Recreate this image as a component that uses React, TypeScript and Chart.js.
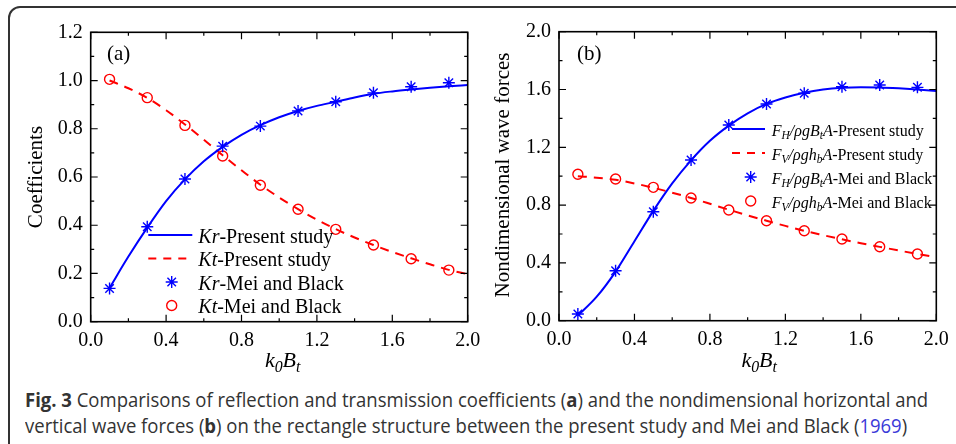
import React, { useEffect, useRef } from 'react';
import { Chart, registerables } from 'chart.js';

Chart.register(...registerables);

const SERIF = '"Liberation Serif", "Times New Roman", serif';
const BLUE = '#0000ff';
const RED = '#ff0000';

// x positions of the reference (Mei and Black) markers
const markerX = [0.1, 0.3, 0.5, 0.7, 0.9, 1.1, 1.3, 1.5, 1.7, 1.9];
// x positions of the "present study" curves
const curveX = [0.1, 0.2, 0.3, 0.4, 0.5, 0.6, 0.7, 0.8, 0.9, 1.0, 1.1, 1.2, 1.3, 1.4, 1.5, 1.6, 1.7, 1.8, 1.9, 2.0];

// Panel (a): coefficients
const krMei = [0.138, 0.394, 0.592, 0.728, 0.811, 0.874, 0.912, 0.949, 0.974, 0.991];
const ktMei = [1.005, 0.929, 0.814, 0.687, 0.566, 0.466, 0.383, 0.318, 0.261, 0.214];
const krPresent = [0.14, 0.27, 0.39, 0.5, 0.59, 0.665, 0.725, 0.775, 0.815, 0.848, 0.874, 0.895, 0.912, 0.93, 0.945, 0.955, 0.963, 0.97, 0.976, 0.981];
const ktPresent = [1.0, 0.968, 0.928, 0.877, 0.818, 0.755, 0.69, 0.628, 0.568, 0.515, 0.467, 0.423, 0.384, 0.349, 0.318, 0.289, 0.263, 0.238, 0.215, 0.197];

// Panel (b): nondimensional wave forces
const fhMei = [0.046, 0.346, 0.754, 1.112, 1.354, 1.5, 1.574, 1.619, 1.631, 1.615];
const fvMei = [1.013, 0.981, 0.923, 0.849, 0.766, 0.692, 0.623, 0.565, 0.512, 0.462];
const fhPresent = [0.035, 0.166, 0.34, 0.55, 0.76, 0.95, 1.11, 1.245, 1.35, 1.435, 1.5, 1.545, 1.578, 1.6, 1.612, 1.616, 1.614, 1.608, 1.6, 1.59];
const fvPresent = [1.0, 0.99, 0.975, 0.95, 0.92, 0.886, 0.849, 0.809, 0.768, 0.729, 0.692, 0.656, 0.622, 0.592, 0.563, 0.536, 0.511, 0.486, 0.462, 0.44];

// Axis ranges / tick steps
const xRange = [0, 2.0];
const xStep = 0.4;
const yRangeA = [0, 1.2];
const yStepA = 0.2;
const yRangeB = [0, 2.0];
const yStepB = 0.4;

type Seg = { t: string; i?: boolean; sub?: boolean };

const legendA: { kind: string; segs: Seg[] }[] = [
  { kind: 'line', segs: [{ t: 'Kr', i: true }, { t: '-Present study' }] },
  { kind: 'dash', segs: [{ t: 'Kt', i: true }, { t: '-Present study' }] },
  { kind: 'star', segs: [{ t: 'Kr', i: true }, { t: '-Mei and Black' }] },
  { kind: 'circle', segs: [{ t: 'Kt', i: true }, { t: '-Mei and Black' }] },
];

const fhLabel: Seg[] = [
  { t: 'F', i: true }, { t: 'H', i: true, sub: true }, { t: '/\u03C1gB', i: true }, { t: 't', i: true, sub: true }, { t: 'A', i: true },
];
const fvLabel: Seg[] = [
  { t: 'F', i: true }, { t: 'V', i: true, sub: true }, { t: '/\u03C1gh', i: true }, { t: 'b', i: true, sub: true }, { t: 'A', i: true },
];
const legendB: { kind: string; segs: Seg[] }[] = [
  { kind: 'line', segs: [...fhLabel, { t: '-Present study' }] },
  { kind: 'dash', segs: [...fvLabel, { t: '-Present study' }] },
  { kind: 'star', segs: [...fhLabel, { t: '-Mei and Black' }] },
  { kind: 'circle', segs: [...fvLabel, { t: '-Mei and Black' }] },
];

const xTitle: Seg[] = [{ t: 'k', i: true }, { t: '0', i: true, sub: true }, { t: 'B', i: true }, { t: 't', i: true, sub: true }];

const pts = (xs: number[], ys: number[]) => xs.map((x, i) => ({ x, y: ys[i] }));

function segFont(s: Seg, size: number) {
  const sz = s.sub ? size * 0.72 : size;
  return `${s.i ? 'italic ' : ''}${sz}px ${SERIF}`;
}

function richWidth(ctx: CanvasRenderingContext2D, segs: Seg[], size: number) {
  let w = 0;
  for (const s of segs) {
    ctx.font = segFont(s, size);
    w += ctx.measureText(s.t).width;
  }
  return w;
}

function drawRich(ctx: CanvasRenderingContext2D, segs: Seg[], x: number, y: number, size: number) {
  let cx = x;
  ctx.textAlign = 'left';
  ctx.textBaseline = 'alphabetic';
  for (const s of segs) {
    ctx.font = segFont(s, size);
    ctx.fillText(s.t, cx, y + (s.sub ? size * 0.22 : 0));
    cx += ctx.measureText(s.t).width;
  }
}

function drawStar(ctx: CanvasRenderingContext2D, x: number, y: number, r: number) {
  ctx.beginPath();
  for (let k = 0; k < 4; k++) {
    const a = (k * Math.PI) / 4;
    ctx.moveTo(x - r * Math.cos(a), y - r * Math.sin(a));
    ctx.lineTo(x + r * Math.cos(a), y + r * Math.sin(a));
  }
  ctx.stroke();
}

type Panel = {
  W: number;
  H: number;
  area: { left: number; top: number; right: number; bottom: number };
  yRange: number[];
  yStep: number;
  s1Mei: number[];
  s2Mei: number[];
  s1Cur: number[];
  s2Cur: number[];
  tag: string;
  tagPos: number[];
  yTitle: string;
  yTitlePos: number[];
  xTitleDx: number;
  xTitleBase: number;
  leg: { x0: number; x1: number; mx: number; tx: number; y0: number; dy: number; size: number; base: number };
  legend: { kind: string; segs: Seg[] }[];
};

function decor(P: Panel) {
  return {
    id: 'decor',
    afterDatasetsDraw(chart: any) {
      const ctx: CanvasRenderingContext2D = chart.ctx;
      const { left, top, right, bottom } = chart.chartArea;
      const xs = chart.scales.x;
      const ys = chart.scales.y;
      ctx.save();
      ctx.strokeStyle = '#000';
      ctx.lineWidth = 1.2;
      // minor/major ticks, inward on all four sides
      const nx = Math.round((xRange[1] - xRange[0]) / (xStep / 2));
      for (let k = 0; k <= nx; k++) {
        const v = xRange[0] + (k * xStep) / 2;
        const px = xs.getPixelForValue(v);
        const len = k % 2 === 0 ? 7 : 3.5;
        ctx.beginPath();
        ctx.moveTo(px, bottom);
        ctx.lineTo(px, bottom - len);
        ctx.moveTo(px, top);
        ctx.lineTo(px, top + len);
        ctx.stroke();
      }
      const ny = Math.round((P.yRange[1] - P.yRange[0]) / (P.yStep / 2));
      for (let k = 0; k <= ny; k++) {
        const v = P.yRange[0] + (k * P.yStep) / 2;
        const py = ys.getPixelForValue(v);
        const len = k % 2 === 0 ? 7 : 3.5;
        ctx.beginPath();
        ctx.moveTo(left, py);
        ctx.lineTo(left + len, py);
        ctx.moveTo(right, py);
        ctx.lineTo(right - len, py);
        ctx.stroke();
      }
      ctx.lineWidth = 1.6;
      ctx.strokeRect(left, top, right - left, bottom - top);
      ctx.restore();
    },
    afterDraw(chart: any) {
      const ctx: CanvasRenderingContext2D = chart.ctx;
      const { left, right } = chart.chartArea;
      ctx.save();
      ctx.fillStyle = '#000';
      // panel tag
      ctx.font = `21px ${SERIF}`;
      ctx.textAlign = 'left';
      ctx.textBaseline = 'alphabetic';
      ctx.fillText(P.tag, P.tagPos[0], P.tagPos[1]);
      // y title
      ctx.save();
      ctx.translate(P.yTitlePos[0], P.yTitlePos[1]);
      ctx.rotate(-Math.PI / 2);
      ctx.font = `21px ${SERIF}`;
      ctx.textAlign = 'center';
      ctx.textBaseline = 'middle';
      ctx.fillText(P.yTitle, 0, 0);
      ctx.restore();
      // x title
      const tw = richWidth(ctx, xTitle, 22);
      drawRich(ctx, xTitle, (left + right) / 2 + P.xTitleDx - tw / 2, P.xTitleBase, 22);
      // legend
      const L = P.leg;
      P.legend.forEach((item, idx) => {
        const y = L.y0 + idx * L.dy;
        ctx.save();
        if (item.kind === 'line' || item.kind === 'dash') {
          ctx.strokeStyle = item.kind === 'line' ? BLUE : RED;
          ctx.lineWidth = 2;
          ctx.setLineDash(item.kind === 'dash' ? [8, 7] : []);
          ctx.beginPath();
          ctx.moveTo(L.x0, y);
          ctx.lineTo(L.x1, y);
          ctx.stroke();
        } else if (item.kind === 'star') {
          ctx.strokeStyle = BLUE;
          ctx.lineWidth = 1.4;
          drawStar(ctx, L.mx, y, 6);
        } else {
          ctx.strokeStyle = RED;
          ctx.lineWidth = 1.4;
          ctx.beginPath();
          ctx.arc(L.mx, y, 5, 0, Math.PI * 2);
          ctx.stroke();
        }
        ctx.restore();
        ctx.fillStyle = '#000';
        drawRich(ctx, item.segs, L.tx, y + L.base, L.size);
      });
      ctx.restore();
    },
  };
}

function buildChart(canvas: HTMLCanvasElement, P: Panel) {
  const tickFont = { family: SERIF, size: 20 };
  return new Chart(canvas, {
    type: 'scatter',
    data: {
      datasets: [
        {
          data: pts(markerX, P.s1Mei),
          showLine: false,
          pointStyle: 'star',
          pointRadius: 6,
          pointBorderWidth: 1.4,
          borderColor: BLUE,
          backgroundColor: BLUE,
        },
        {
          data: pts(markerX, P.s2Mei),
          showLine: false,
          pointStyle: 'circle',
          pointRadius: 5,
          pointBorderWidth: 1.4,
          borderColor: RED,
          backgroundColor: 'rgba(0,0,0,0)',
        },
        {
          data: pts(curveX, P.s1Cur),
          showLine: true,
          pointRadius: 0,
          borderColor: BLUE,
          borderWidth: 2,
          cubicInterpolationMode: 'monotone',
        },
        {
          data: pts(curveX, P.s2Cur),
          showLine: true,
          pointRadius: 0,
          borderColor: RED,
          borderWidth: 2,
          borderDash: [9, 7],
          cubicInterpolationMode: 'monotone',
        },
      ] as any,
    },
    options: {
      responsive: false,
      animation: false,
      events: [],
      layout: { padding: { left: 0, top: P.area.top, right: P.W - P.area.right, bottom: 0 } },
      plugins: { legend: { display: false }, tooltip: { enabled: false } },
      scales: {
        x: {
          type: 'linear',
          min: xRange[0],
          max: xRange[1],
          afterFit: (s: any) => {
            s.height = P.H - P.area.bottom;
            s.paddingLeft = 0;
            s.paddingRight = 0;
          },
          grid: { display: false, drawTicks: false },
          border: { display: false },
          ticks: {
            stepSize: xStep,
            padding: 7,
            font: tickFont,
            color: '#000',
            maxRotation: 0,
            autoSkip: false,
            callback: (v: any) => Number(v).toFixed(1),
          },
        },
        y: {
          type: 'linear',
          min: P.yRange[0],
          max: P.yRange[1],
          afterFit: (s: any) => {
            s.width = P.area.left;
            s.paddingTop = 0;
            s.paddingBottom = 0;
          },
          grid: { display: false, drawTicks: false },
          border: { display: false },
          ticks: {
            stepSize: P.yStep,
            padding: 8,
            font: tickFont,
            color: '#000',
            autoSkip: false,
            callback: (v: any) => Number(v).toFixed(1),
          },
        },
      } as any,
    },
    plugins: [decor(P)],
  } as any);
}

const panelA: Panel = {
  W: 495,
  H: 380,
  area: { left: 90.7, top: 32.3, right: 467.7, bottom: 321.7 },
  yRange: yRangeA,
  yStep: yStepA,
  s1Mei: krMei,
  s2Mei: ktMei,
  s1Cur: krPresent,
  s2Cur: ktPresent,
  tag: '(a)',
  tagPos: [107, 60],
  yTitle: 'Coefficients',
  yTitlePos: [36, 177],
  xTitleDx: 3.5,
  xTitleBase: 366.7,
  leg: { x0: 148.3, x1: 192.3, mx: 171.7, tx: 198.3, y0: 235, dy: 23.5, size: 20, base: 7.5 },
  legend: legendA,
};

const panelB: Panel = {
  W: 478,
  H: 380,
  area: { left: 81, top: 31.7, right: 458.3, bottom: 320.7 },
  yRange: yRangeB,
  yStep: yStepB,
  s1Mei: fhMei,
  s2Mei: fvMei,
  s1Cur: fhPresent,
  s2Cur: fvPresent,
  tag: '(b)',
  tagPos: [99, 60],
  yTitle: 'Nondimensional wave forces',
  yTitlePos: [25, 175],
  xTitleDx: 11.5,
  xTitleBase: 366.7,
  leg: { x0: 254, x1: 287, mx: 272.7, tx: 293.7, y0: 129, dy: 24, size: 16, base: 6.5 },
  legend: legendB,
};

export default function App() {
  const refA = useRef<HTMLCanvasElement>(null);
  const refB = useRef<HTMLCanvasElement>(null);

  useEffect(() => {
    const a = buildChart(refA.current as HTMLCanvasElement, panelA);
    const b = buildChart(refB.current as HTMLCanvasElement, panelB);
    return () => {
      a.destroy();
      b.destroy();
    };
  }, []);

  const capFont: React.CSSProperties = {
    fontFamily: '"Open Sans", "Noto Sans", sans-serif',
    fontSize: 20,
    lineHeight: '26px',
    color: '#333',
    whiteSpace: 'nowrap',
    transform: 'scaleX(0.925)',
    transformOrigin: 'left top',
  };

  return (
    <div style={{ position: 'fixed', left: 0, top: 0, width: 956, height: 444, background: '#fff', overflow: 'hidden' }}>
      <div
        style={{
          position: 'absolute',
          left: 8,
          top: 6,
          width: 1000,
          height: 500,
          border: '2px solid #333',
          borderRadius: 12,
          boxSizing: 'border-box',
        }}
      />
      <canvas ref={refA} width={495} height={380} style={{ position: 'absolute', left: 0, top: 0 }} />
      <canvas ref={refB} width={478} height={380} style={{ position: 'absolute', left: 478, top: 0 }} />
      <div style={{ position: 'absolute', left: 25, top: 387, ...capFont }}>
        <div>
          <b>Fig. 3</b> Comparisons of reflection and transmission coefficients (<b>a</b>) and the nondimensional horizontal and
        </div>
        <div>
          vertical wave forces (<b>b</b>) on the rectangle structure between the present study and Mei and Black (
          <span style={{ color: '#3a3ad8' }}>1969</span>)
        </div>
      </div>
    </div>
  );
}
